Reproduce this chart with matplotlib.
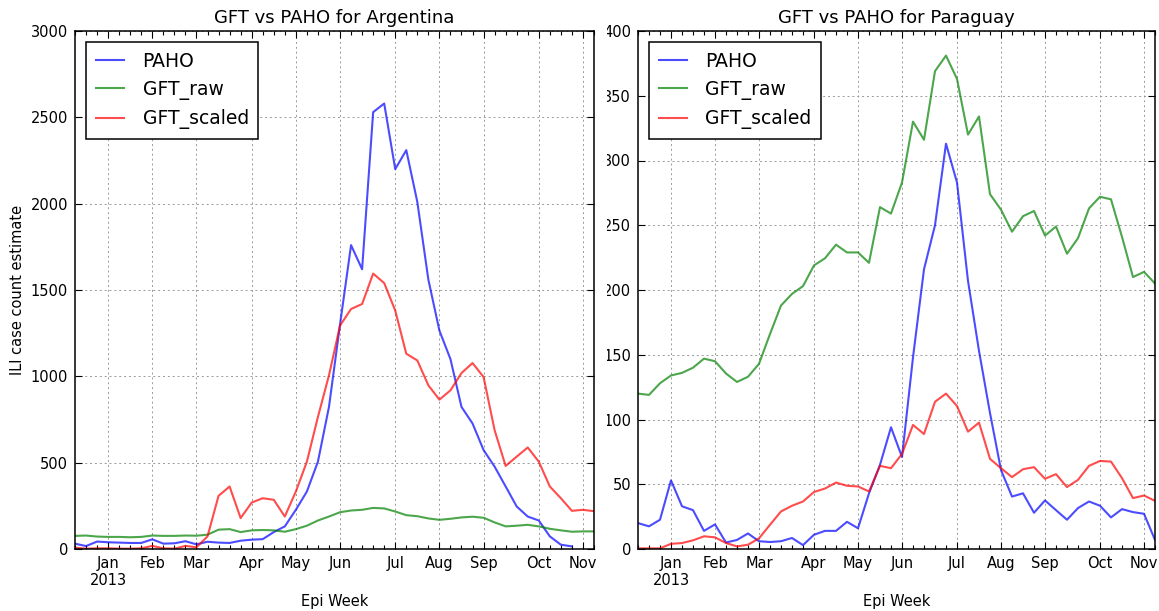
import pandas as pd
import numpy as np
import matplotlib
matplotlib.use("Agg")
import matplotlib.pyplot as plt
from matplotlib.patches import Rectangle

# epi weeks (week starting Sunday), Dec 2012 - Nov 2013
weeks = pd.date_range("2012-12-16", periods=48, freq="W-SUN")

# Argentina
arg_paho = [31, 17, 43, 39, 37, 35, 35, 56, 31, 33, 45, 27,
            42, 37, 35, 48, 54, 57, 98, 131, 227, 333, 506, 823,
            1300, 1760, 1620, 2530, 2580, 2200, 2310, 2010, 1560, 1265, 1100, 823,
            727, 573, 477, 362, 246, 188, 165, 73, 25, 15, np.nan, np.nan]
arg_raw = [76, 78, 72, 70, 70, 68, 70, 78, 76, 76, 78, 77,
           83, 112, 115, 98, 108, 110, 108, 100, 115, 135, 165, 188,
           213, 223, 227, 238, 235, 217, 196, 190, 177, 169, 175, 183,
           187, 181, 154, 131, 135, 140, 131, 117, 108, 100, 102, 102]
arg_scaled = [8, 2, 4, 4, 2, 2, 4, 18, 4, 2, 18, 10,
              73, 308, 362, 179, 269, 294, 285, 188, 333, 506, 765, 1006,
              1294, 1390, 1419, 1595, 1540, 1381, 1131, 1092, 948, 865, 919, 1019,
              1077, 996, 688, 481, 535, 588, 506, 362, 294, 221, 227, 219]

# Paraguay
par_paho = [20, 17.5, 22.6, 53, 33, 30, 14, 19, 5, 7, 12, 6,
            5.4, 6, 8.5, 3, 11, 14, 14, 21, 16, 43, 65, 94,
            71, 148, 216, 250, 313, 283, 207, 153, 105, 61, 40.5, 43,
            28, 37.5, 30, 22.6, 31.6, 36.7, 33.4, 24.4, 30.8, 28.5, 27.2, 7]
par_raw = [120, 119, 128, 134, 136, 140, 147, 145, 135.5, 129, 133, 143,
           166, 188, 197, 203, 219, 224.5, 235, 229, 229, 221, 264, 259,
           283, 330, 316, 369, 381, 363, 320, 334, 274, 262, 245, 257,
           261, 242, 249, 228, 240, 263, 272, 270, 241, 210, 214, 205]
par_scaled = [0.5, 0.5, 0.5, 4, 4.6, 6.7, 9.8, 9, 4.6, 2, 3.3, 8.2,
              18.7, 29, 33.4, 36.7, 44, 46.7, 51.3, 48.8, 48.3, 44.4, 64.2, 62.4,
              73.4, 95.8, 88.8, 113.7, 120, 110.4, 90.6, 97.6, 69.6, 62.4, 55.5, 61.6,
              63.2, 54.2, 57.8, 47.8, 53.4, 64.2, 68, 67.5, 54.7, 39.3, 41.3, 37.2]

W, H = 1159, 611
fig = plt.figure(figsize=(W / 100, H / 100), dpi=100)
ax1 = fig.add_axes([75 / W, 1 - 549 / H, 519 / W, 518 / H])
ax2 = fig.add_axes([638 / W, 1 - 549 / H, 517 / W, 518 / H])

# month ticks at the first epi week of each month
month_idx = [i for i in range(1, len(weeks)) if weeks[i].month != weeks[i - 1].month]
month_pos = [weeks[i] for i in month_idx]
month_lab = [weeks[i].strftime("%b") + ("\n%d" % weeks[i].year if weeks[i].month == 1 else "")
             for i in month_idx]


def draw(ax, paho, raw, scaled, country, ymax, ystep):
    ax.plot(weeks, paho, color="b", alpha=0.7, lw=1.5, label="PAHO")
    ax.plot(weeks, raw, color="g", alpha=0.7, lw=1.5, label="GFT_raw")
    ax.plot(weeks, scaled, color="r", alpha=0.7, lw=1.5, label="GFT_scaled")
    ax.set_xlim(weeks[0], weeks[-1])
    ax.set_ylim(0, ymax)
    ax.set_yticks(np.arange(0, ymax + 1, ystep))
    ax.set_xticks(month_pos)
    ax.set_xticklabels(month_lab)
    ax.set_xticks(weeks, minor=True)
    ax.tick_params(which="both", direction="in", top=True, right=True,
                   labelsize=10.5, pad=5, width=0.8)
    ax.tick_params(which="major", length=5)
    ax.tick_params(which="minor", length=3)
    ax.grid(True, which="major", linestyle=(0, (2, 3)), color="0.6", lw=0.7)
    for s in ax.spines.values():
        s.set_linewidth(1.1)
    ax.set_title("GFT vs PAHO for " + country, fontsize=13)
    ax.set_xlabel("Epi Week", fontsize=10.5)
    leg = ax.legend(loc="upper left", fontsize=13.5, fancybox=False, framealpha=1,
                    edgecolor="black", handlelength=1.5, handletextpad=1.0,
                    labelspacing=0.5, borderpad=0.5, borderaxespad=0.6)
    leg.get_frame().set_linewidth(1.1)


draw(ax1, arg_paho, arg_raw, arg_scaled, "Argentina", 3000, 500)
draw(ax2, par_paho, par_raw, par_scaled, "Paraguay", 400, 50)
ax1.set_ylabel("ILI case count estimate", fontsize=10.5)

# the right panel's tick labels are cut off at the seam in the original
fig.patches.append(Rectangle((597 / W, 0), 10 / W, 1, transform=fig.transFigure,
                             facecolor="white", edgecolor="none", zorder=5))

fig.savefig("out.png", dpi=100, facecolor="white")
